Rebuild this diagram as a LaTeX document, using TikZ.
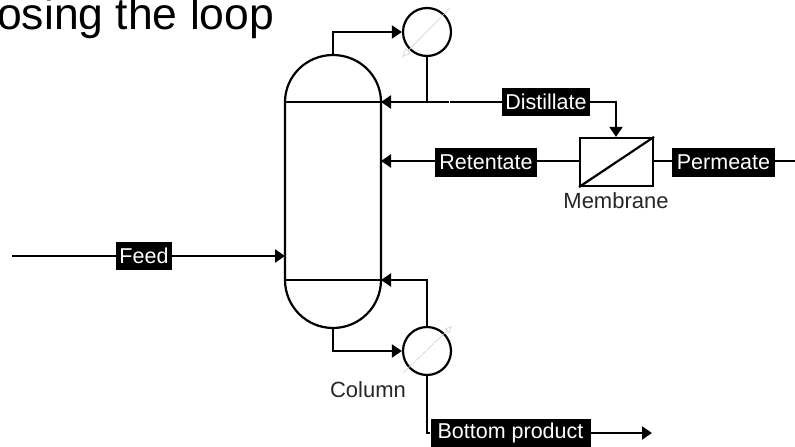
\documentclass[tikz,border=0pt]{standalone}
\usepackage{fontspec}
\setmainfont{Liberation Sans}
\usetikzlibrary{arrows.meta}
\tikzset{
  flow/.style={line width=2.2pt,draw=black},
  arr/.style={flow,-{Triangle[length=10pt,width=13pt]}},
  tag/.style={fill=black,text=white,font=\fontsize{21.5}{23}\selectfont,inner sep=0pt,minimum height=28pt,anchor=center},
  captext/.style={font=\fontsize{22}{24}\selectfont,text=black!85,inner sep=0pt},
  hx/.style={circle,draw=black,line width=2.2pt,minimum size=48pt,inner sep=0pt},
  hint/.style={line width=0.6pt,draw=black!18}
}
\begin{document}
\begin{tikzpicture}[x=1pt,y=-1pt]
\useasboundingbox (0,0) rectangle (795,447);
\node[anchor=base west,inner sep=0pt,font=\fontsize{44.5}{46}\selectfont,text=black] (title) at (-3,29) {osing the loop};
% column
\coordinate (cTL) at (285,102);
\coordinate (cTR) at (381,102);
\coordinate (cBL) at (285,280);
\coordinate (cBR) at (381,280);
\coordinate (cTop) at (333,55);
\coordinate (cBot) at (333,328);
\draw[flow] (cBL) -- (cTL) arc[start angle=180,end angle=0,x radius=48,y radius=-47] -- (cBR) arc[start angle=0,end angle=-180,x radius=48,y radius=-48] -- cycle;
\draw[flow] (cTL) -- (cTR);
\draw[flow] (cBL) -- (cBR);
% exchangers
\node[hx] (cond) at (427,32) {};
\node[hx] (reb) at (427,351) {};
\coordinate (cA) at (402,57); \coordinate (cB) at (450,8);
\coordinate (rA) at (403,373); \coordinate (rB) at (452,326);
\draw[hint,-{Triangle[open,length=9pt,width=7pt]}] (cB) -- (cA);
\draw[hint,-{Triangle[open,length=7pt,width=6pt]}] (rA) -- (rB);
% membrane
\node[draw=black,line width=2.2pt,minimum width=73pt,minimum height=48pt,inner sep=0pt] (mem) at (616.5,162) {};
\draw[flow] (mem.south west) -- (mem.north east);
\node[captext] (memL) at (616,201) {Membrane};
\node[captext] (colL) at (368,390) {Column};
% labels
\node[tag,minimum width=88pt] (dist) at (546,102) {Distillate};
\node[tag,minimum width=102pt,minimum height=29pt] (ret) at (486,162) {Retentate};
\node[tag,minimum width=103pt,minimum height=29pt] (perm) at (723.5,162) {Permeate};
\node[tag,minimum width=56pt] (feed) at (144,256) {Feed};
\node[tag,minimum width=160pt] (bot) at (510.5,433) {\raisebox{-1.5pt}{Bottom product}};
% connectors
\coordinate (fs) at (12,256);
\coordinate (fe) at (285,256);
\draw[flow] (fs) -- (feed);
\draw[arr] (feed) -- (fe);
\coordinate (re) at (381,161);
\draw[flow] (mem.west |- re) -- (ret.east |- re);
\draw[arr] (ret.west |- re) -- (re);
\coordinate (pe) at (795,161);
\draw[flow] (mem.east |- pe) -- (perm.west |- pe);
\draw[flow] (perm.east |- pe) -- (pe);
\coordinate (cj) at (427,102);
\draw[arr] (dist.west) -- (cTR);
\draw[flow] (cond.south) -- (cj);
\draw[white,line width=1pt] (449,100.5) -- (449,103.5);
\coordinate (dc) at (616,102);
\draw[arr] (dist.east) -- (dc) -- (dc |- mem.north);
\coordinate (u1) at (333,32);
\draw[arr] (cTop) -- (u1) -- (cond.west);
\coordinate (u2) at (333,351);
\draw[arr] (cBot) -- (u2) -- (reb.west);
\coordinate (rj) at (427,280);
\draw[arr] (reb.north) -- (rj) -- (cBR);
\coordinate (bj) at (427,433);
\draw[flow] (reb.south) -- (bj) -- (bot.west);
\coordinate (be) at (652,433);
\draw[arr] (bot.east) -- (be);
\end{tikzpicture}
\end{document}
